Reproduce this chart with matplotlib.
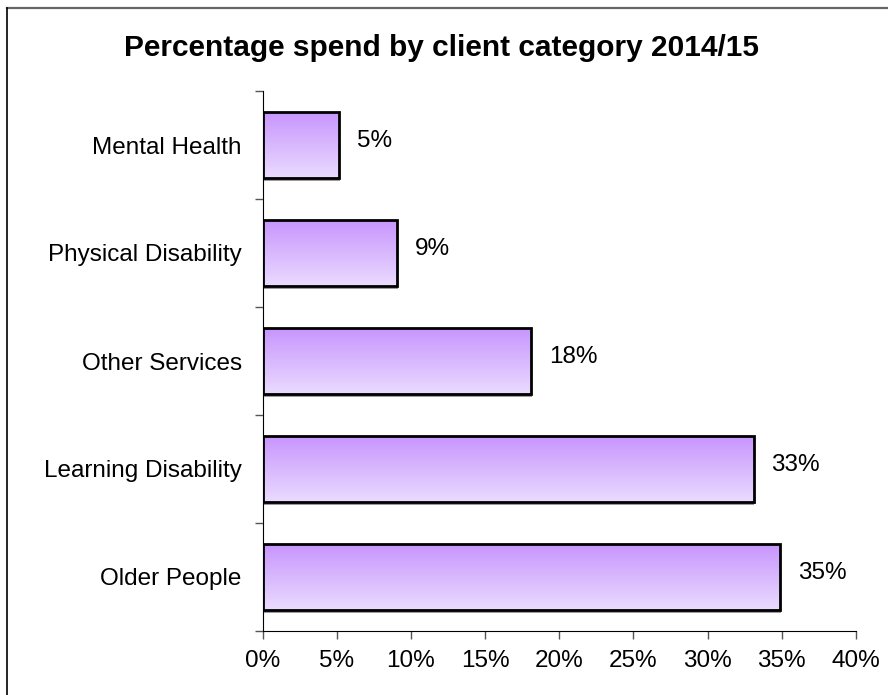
import numpy as np
import matplotlib
matplotlib.use("Agg")
import matplotlib.pyplot as plt
from matplotlib.colors import LinearSegmentedColormap
from matplotlib.patches import Rectangle
from matplotlib.lines import Line2D

plt.rcParams['font.family'] = ['Liberation Sans', 'DejaVu Sans']

# data, bottom to top
categories = ["Older People", "Learning Disability", "Other Services",
              "Physical Disability", "Mental Health"]
values = [34.9, 33.1, 18.1, 9.05, 5.15]
labels = ["35%", "33%", "18%", "9%", "5%"]
x_ticks = [0, 5, 10, 15, 20, 25, 30, 35, 40]

W, H = 888, 695
fig = plt.figure(figsize=(W / 100, H / 100), dpi=100)
# frame lines (only top and left show in the picture)
fig.lines.append(Line2D([6.5 / W, 1], [1 - 7.5 / H, 1 - 7.5 / H], transform=fig.transFigure,
                        color='#666666', linewidth=1.6))
fig.lines.append(Line2D([6.5 / W, 6.5 / W], [0, 1 - 7.5 / H], transform=fig.transFigure,
                        color='black', linewidth=1.2))

ax = fig.add_axes([262.5 / W, 1 - 631 / H, (856 - 262.5) / W, (631 - 91) / H])

ypos = np.arange(len(categories))
bars = ax.barh(ypos, values, height=0.62, facecolor='none', edgecolor='black',
               linewidth=2, zorder=3)

# vertical gradient inside each bar: darker purple on top, pale at bottom
cmap = LinearSegmentedColormap.from_list("grad", ["#eadbff", "#c794fd"])
grad = np.linspace(0, 1, 256).reshape(-1, 1)
for b in bars:
    x0, y0 = b.get_x(), b.get_y()
    w, h = b.get_width(), b.get_height()
    # shadow under bar
    sh = Rectangle((x0 + 0.05, y0 - 0.025), w, h, facecolor='#9a9a9a',
                   edgecolor='none', zorder=1)
    ax.add_patch(sh)
    im = ax.imshow(grad, extent=(x0, x0 + w, y0, y0 + h), origin='lower',
                   cmap=cmap, aspect='auto', zorder=2)
    im.set_clip_path(b)
ax.set_xlim(0, 40)
ax.set_ylim(-0.5, len(categories) - 0.5)

for y, v, lab in zip(ypos, values, labels):
    ax.text(v + 1.2, y + 0.04, lab, va='center', ha='left', fontsize=17.5)

ax.set_yticks(np.arange(-0.5, len(categories), 1), minor=False)
ax.set_yticklabels([])
ax.set_yticks(ypos, minor=True)
ax.set_yticklabels(categories, minor=True, fontsize=17.5)
ax.tick_params(axis='y', which='minor', length=0, pad=15)
ax.tick_params(axis='y', which='major', length=6, direction='out', width=1, color='#555555')

ax.set_xticks(x_ticks)
ax.set_xticklabels([f"{t}%" for t in x_ticks], fontsize=17.5)
ax.tick_params(axis='x', length=6, direction='out', width=1, color='#555555', pad=8)

ax.spines['top'].set_visible(False)
ax.spines['right'].set_visible(False)

fig.text(0.497, 1 - 48 / H, "Percentage spend by client category 2014/15", fontsize=21.5,
         fontweight='bold', ha='center', va='center')

fig.savefig("out.png", dpi=100)
